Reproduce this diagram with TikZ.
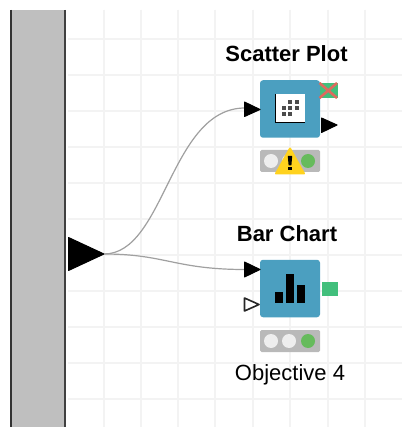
\documentclass[tikz,border=0pt]{standalone}
\usepackage{fontspec}
\setmainfont{Liberation Sans}
\definecolor{knime}{HTML}{4B9FC0}
\definecolor{portgreen}{HTML}{41BF7C}
\definecolor{lightbar}{HTML}{B9B9B9}
\definecolor{lampoff}{HTML}{EEEEEE}
\definecolor{lampgreen}{HTML}{66BB5C}
\definecolor{warnyellow}{HTML}{FFD21E}
\definecolor{gridc}{HTML}{F3F3F3}
\definecolor{wire}{HTML}{A0A0A0}
\definecolor{crossred}{HTML}{DE6A5E}
\tikzset{
  x=1pt,y=-1pt,
  gridline/.style={draw=gridc,line width=1.3pt},
  nodebox/.style={fill=knime,draw=none,rounded corners=3pt,minimum width=60pt,minimum height=57.5pt,inner sep=0pt,outer sep=0pt},
  lightsbox/.style={fill=lightbar,draw=none,rounded corners=1.5pt,minimum width=60pt,minimum height=22pt,inner sep=0pt},
  lamp/.style={circle,minimum size=14pt,inner sep=0pt,draw=none},
  porttri/.style={fill=black,draw=black,line width=1pt,line join=round},
  wirec/.style={draw=wire,line width=1.2pt},
  title/.style={font=\bfseries\fontsize{22}{26}\selectfont,inner sep=0pt},
  caption/.style={font=\fontsize{22}{26}\selectfont,inner sep=0pt},
}
\begin{document}
\begin{tikzpicture}
\useasboundingbox (0,0) rectangle (402,427);
\fill[white] (0,0) rectangle (402,427);
\foreach \yy in {39,75,111,147,183,219,255,291,327,363,399}
  \draw[gridline] (68,\yy) -- (402,\yy);
\foreach \xx in {104,141,178,215,253,290,328,365}
  \draw[gridline] (\xx,10) -- (\xx,427);
% panel
\fill[fill=white!75!black] (11,10) rectangle (65,427);
\draw[black!80,line width=1.6pt] (11,10) -- (11,427);
\draw[black!75,line width=1.8pt] (65,10) -- (65,427);
% big port
\coordinate (bigout) at (104,254);
\fill[black,line join=round,draw=black,line width=1pt] (68.5,237.5) -- (bigout) -- (68.5,270.5) -- cycle;
% nodes
\node[nodebox] (scatter) at (290,109) {};
\node[nodebox] (bar) at (290,288.5) {};
\node[lightsbox] (lightsA) at (290,161) {};
\node[lightsbox] (lightsB) at (290,341) {};
\node[lamp,fill=lampoff] (a1) at (271,161) {};
\node[lamp,fill=lampoff] (a2) at (289,161) {};
\node[lamp,fill=lampgreen] (a3) at (308,161) {};
\node[lamp,fill=lampoff] (b1) at (271,341) {};
\node[lamp,fill=lampoff] (b2) at (289,341) {};
\node[lamp,fill=lampgreen] (b3) at (308,341) {};
% warning
\fill[warnyellow,draw=warnyellow,line width=2pt,line join=round] (290,148.5) -- (304,173.5) -- (276,173.5) -- cycle;
\fill[black] (287.8,156) -- (292.2,156) -- (291.4,165.5) -- (288.6,165.5) -- cycle;
\fill[black] (288.3,167) rectangle (291.7,170.5);
% wires
\coordinate (inA) at (245,108);
\coordinate (inB) at (245,269.5);
\draw[wirec] (bigout) .. controls (165,254) and (170,108) .. (inA);
\draw[wirec] (bigout) .. controls (165,254) and (175,269.5) .. (inB);
% input ports
\draw[porttri] (244.5,102) -- (260,109.5) -- (244.5,116.5) -- cycle;
\draw[porttri] (244.5,262) -- (260,269.5) -- (244.5,277) -- cycle;
\draw[fill=white,draw=black!85,line width=1.6pt,line join=round] (244.5,298) -- (259,304.5) -- (244.5,311) -- cycle;
% output ports
\draw[porttri] (321.5,118) -- (337,125) -- (321.5,132.5) -- cycle;
\fill[portgreen] (320,83) rectangle (338,98);
\draw[crossred,line width=2.6pt] (319.5,83) -- (337,98) (337,83) -- (319.5,98);
\fill[portgreen] (322,282) rectangle (338,296);
% scatter icon
\fill[white] (275,94) rectangle (305,123);
\draw[black,line width=1.4pt] (275.7,94) -- (275.7,122.5) -- (304.5,122.5);
\foreach \dx/\dy/\g in {290/102/70,297/102/70,284/108/70,290/108/70,297/108/70,284/114/70,290/114/70}
  \fill[black!\g] (\dx-1.7,\dy-1.7) rectangle (\dx+1.7,\dy+1.7);
% bar icon
\fill[black] (275,292) rectangle (283,303);
\fill[black] (286,274) rectangle (293.5,303);
\fill[black] (297,285) rectangle (305,303);
% labels
\node[title] (t1) at (286.5,54) {Scatter Plot};
\node[title] (t2) at (287,234) {Bar Chart};
\node[caption] (t3) at (290,374.5) {Objective 4};
\end{tikzpicture}
\end{document}
